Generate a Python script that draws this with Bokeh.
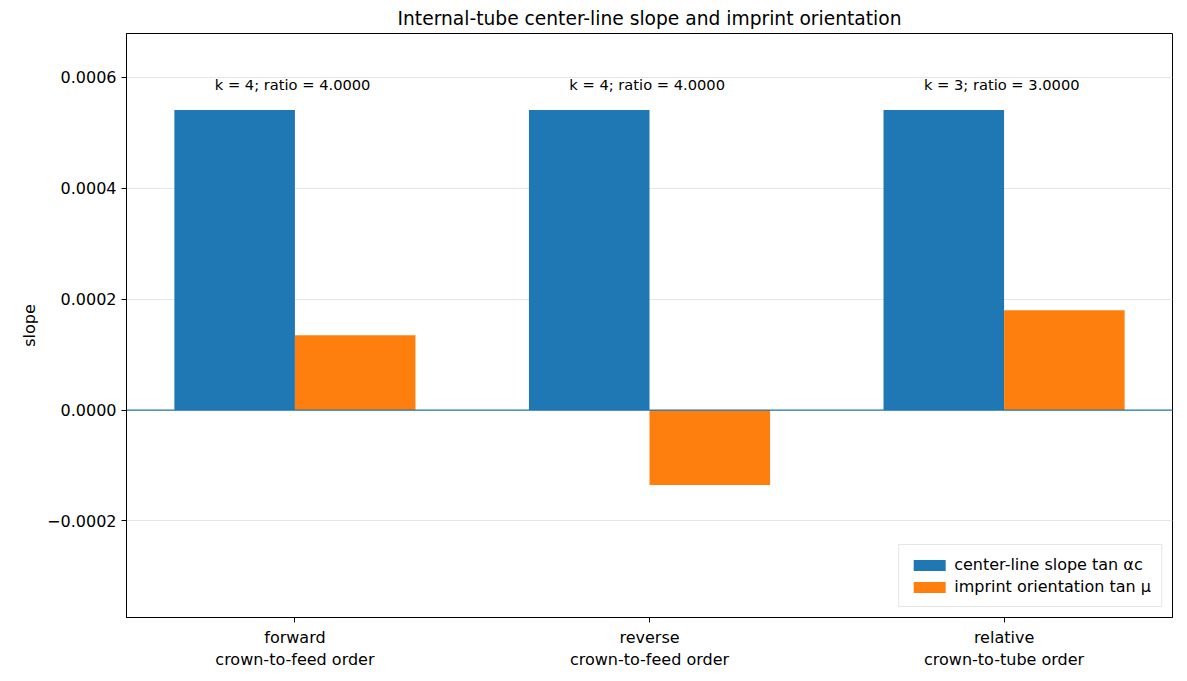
from bokeh.plotting import figure
from bokeh.models import Range1d, FixedTicker, Span, Legend, LegendItem, ColumnDataSource
from bokeh.embed import file_html
from bokeh.resources import INLINE

categories = ["forward\ncrown-to-feed order", "reverse\ncrown-to-feed order", "relative\ncrown-to-tube order"]
center_slope = [0.000541, 0.000541, 0.000541]
imprint = [0.000135, -0.000135, 0.000180]
annotations = ["k = 4; ratio  = 4.0000", "k = 4; ratio  = 4.0000", "k = 3; ratio  = 3.0000"]
yticks = [-0.0002, 0.0, 0.0002, 0.0004, 0.0006]

xs = list(range(len(categories)))
p = figure(width=1176, height=672, output_backend="svg", toolbar_location=None,
           x_range=Range1d(-0.475, 2.475), y_range=Range1d(-0.000374, 0.000679),
           title="Internal-tube center-line slope and imprint orientation")
p.title.align = "center"
p.title.text_font_size = "14pt"
p.title.text_font_style = "normal"
p.title.text_font = "DejaVu Sans"
p.title.text_color = "black"
p.outline_line_color = "black"
p.min_border_left = 126
p.min_border_right = 4

w = 0.34
src = ColumnDataSource(dict(x=xs, xb=[x - w/2 for x in xs], xo=[x + w/2 for x in xs],
                            c=center_slope, m=imprint, t=annotations,
                            ty=[max(a, b) + 0.00003 for a, b in zip(center_slope, imprint)]))
r1 = p.vbar(x="xb", top="c", bottom=0, width=w, source=src, color="#1f77b4", line_color=None)
r2 = p.vbar(x="xo", top="m", bottom=0, width=w, source=src, color="#ff7f0e", line_color=None)
p.text(x="x", y="ty", text="t", source=src, text_align="center", text_baseline="bottom",
       text_font_size="11pt", text_font={"value": "DejaVu Sans"}, text_color="black")
p.add_layout(Span(location=0, dimension="width", line_color="#1f77b4", line_width=1.3))

p.xgrid.visible = False
p.ygrid.grid_line_color = "#e6e6e6"
p.xaxis.ticker = FixedTicker(ticks=xs)
p.xaxis.major_label_overrides = {i: c for i, c in enumerate(categories)}
p.yaxis.ticker = FixedTicker(ticks=yticks)
p.yaxis.major_label_overrides = {t: (f"{t:.4f}".replace("-", "\u2212")) for t in yticks}
p.yaxis.axis_label = "slope"
for ax in (p.xaxis, p.yaxis):
    ax.major_label_text_font_size = "12pt"
    ax.major_label_text_font = "DejaVu Sans"
    ax.major_label_text_color = "black"
    ax.axis_label_text_font = "DejaVu Sans"
    ax.axis_label_text_font_size = "12pt"
    ax.axis_label_text_font_style = "normal"
    ax.axis_label_text_color = "black"
    ax.minor_tick_line_color = None
    ax.major_tick_out = 5
    ax.major_tick_in = 0
    ax.axis_line_color = "black"
    ax.major_tick_line_color = "black"

legend = Legend(items=[LegendItem(label="center-line slope tan \u03b1c", renderers=[r1]),
                       LegendItem(label="imprint orientation tan \u03bc", renderers=[r2])],
                location="bottom_right", label_text_font="DejaVu Sans", label_text_font_size="12pt",
                label_text_color="black",
                border_line_color="#cccccc", glyph_width=40, glyph_height=14)
p.add_layout(legend)

open("out.html", "w").write(file_html(p, INLINE))
